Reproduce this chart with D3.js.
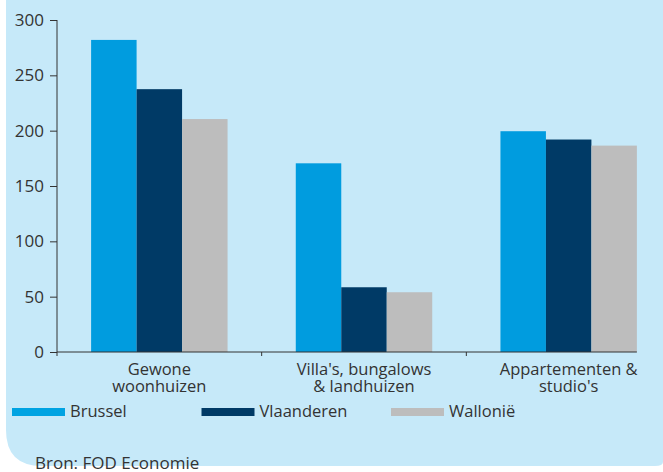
<!DOCTYPE html>
<html>
<head>
<meta charset="utf-8">
<script src="https://cdn.jsdelivr.net/npm/d3@7"></script>
<style>
  body { margin: 0; background: #fff; }
  text { font-family: "Open Sans", sans-serif; fill: #333; }
</style>
</head>
<body>
<div id="chart"></div>
<script>
// data
var categories = [["Gewone", "woonhuizen"], ["Villa's, bungalows", "& landhuizen"], ["Appartementen &", "studio's"]];
var seriesNames = ["Brussel", "Vlaanderen", "Wallonië"];
var brussel = [282, 170.5, 199.5];
var vlaanderen = [237.5, 58.5, 192];
var wallonie = [210.5, 54, 186.5];
var yTicks = [0, 50, 100, 150, 200, 250, 300];
var colors = ["#009cdf", "#003a66", "#bdbdbd"];

var svgWidth = 663;
var svgHeight = 472;

var svg = d3.select("#chart")
  .append("svg")
  .attr("width", svgWidth)
  .attr("height", svgHeight);

// light blue panel with rounded bottom corners
svg.append("path")
  .attr("d", "M6,0 H663 V462 Q663,466 655,466 H42 Q6,466 6,430 Z")
  .attr("fill", "#c6e9f9");

var values = [brussel, vlaanderen, wallonie];
var catKeys = categories.map(function(c) { return c.join(" "); });

var x0 = d3.scaleBand()
  .domain(catKeys)
  .range([57, 671]);

var x1 = d3.scaleBand()
  .domain(seriesNames)
  .range([0, x0.bandwidth()])
  .paddingOuter(0.75);

var y = d3.scaleLinear()
  .domain([0, 300])
  .range([352, 20]);

var color = d3.scaleOrdinal()
  .domain(seriesNames)
  .range(colors);

// bars
var groups = svg.selectAll("g.cat")
  .data(catKeys)
  .enter()
  .append("g")
  .attr("class", "cat")
  .attr("transform", function(d) { return "translate(" + x0(d) + ",0)"; });

groups.selectAll("rect")
  .data(function(d, i) {
    return seriesNames.map(function(s, j) { return { s: s, v: values[j][i] }; });
  })
  .enter()
  .append("rect")
  .attr("x", function(d) { return x1(d.s); })
  .attr("y", function(d) { return y(d.v); })
  .attr("width", x1.bandwidth())
  .attr("height", function(d) { return y(0) - y(d.v); })
  .attr("fill", function(d) { return color(d.s); });

// y axis
var yAxis = svg.append("g")
  .attr("transform", "translate(57,0)")
  .call(d3.axisLeft(y).tickValues(yTicks).tickSize(7).tickPadding(6));

yAxis.select(".domain").remove();
yAxis.selectAll("line").attr("stroke", "#333");
yAxis.selectAll("text")
  .style("font-family", "'Open Sans', sans-serif")
  .style("font-size", "17px")
  .attr("fill", "#333");

svg.append("line")
  .attr("x1", 57).attr("x2", 57)
  .attr("y1", y(300)).attr("y2", y(0) + 4)
  .attr("stroke", "#333");

// x axis line ends at the last bar
var lastCat = catKeys[catKeys.length - 1];
var xEnd = x0(lastCat) + x1(seriesNames[2]) + x1.bandwidth();
svg.append("line")
  .attr("x1", 57).attr("x2", xEnd)
  .attr("y1", y(0)).attr("y2", y(0))
  .attr("stroke", "#333");

svg.selectAll("line.xtick")
  .data(catKeys.slice(1))
  .enter()
  .append("line")
  .attr("class", "xtick")
  .attr("x1", function(d) { return x0(d); })
  .attr("x2", function(d) { return x0(d); })
  .attr("y1", y(0))
  .attr("y2", y(0) + 4)
  .attr("stroke", "#333");

// category labels, two lines each
categories.forEach(function(lines, i) {
  var cx = x0(catKeys[i]) + x0.bandwidth() / 2;
  lines.forEach(function(line, k) {
    svg.append("text")
      .attr("class", "cat-label")
      .attr("x", cx)
      .attr("y", 375 + k * 17)
      .attr("text-anchor", "middle")
      .style("font-size", "16.5px")
      .text(line);
  });
});

// legend
var legend = svg.selectAll("g.legend")
  .data(seriesNames)
  .enter()
  .append("g")
  .attr("class", "legend")
  .attr("transform", function(d, i) { return "translate(" + (12 + i * 189.5) + ",0)"; });

legend.append("rect")
  .attr("x", 0)
  .attr("y", 408)
  .attr("width", 53)
  .attr("height", 8)
  .attr("fill", function(d, i) { return i === 0 ? "#00a3e2" : color(d); });

legend.append("text")
  .attr("x", 58)
  .attr("y", 417)
  .style("font-size", "16.5px")
  .text(function(d) { return d; });

// source
svg.append("text")
  .attr("x", 35)
  .attr("y", 469)
  .style("font-size", "17px")
  .text("Bron: FOD Economie");
</script>
</body>
</html>
